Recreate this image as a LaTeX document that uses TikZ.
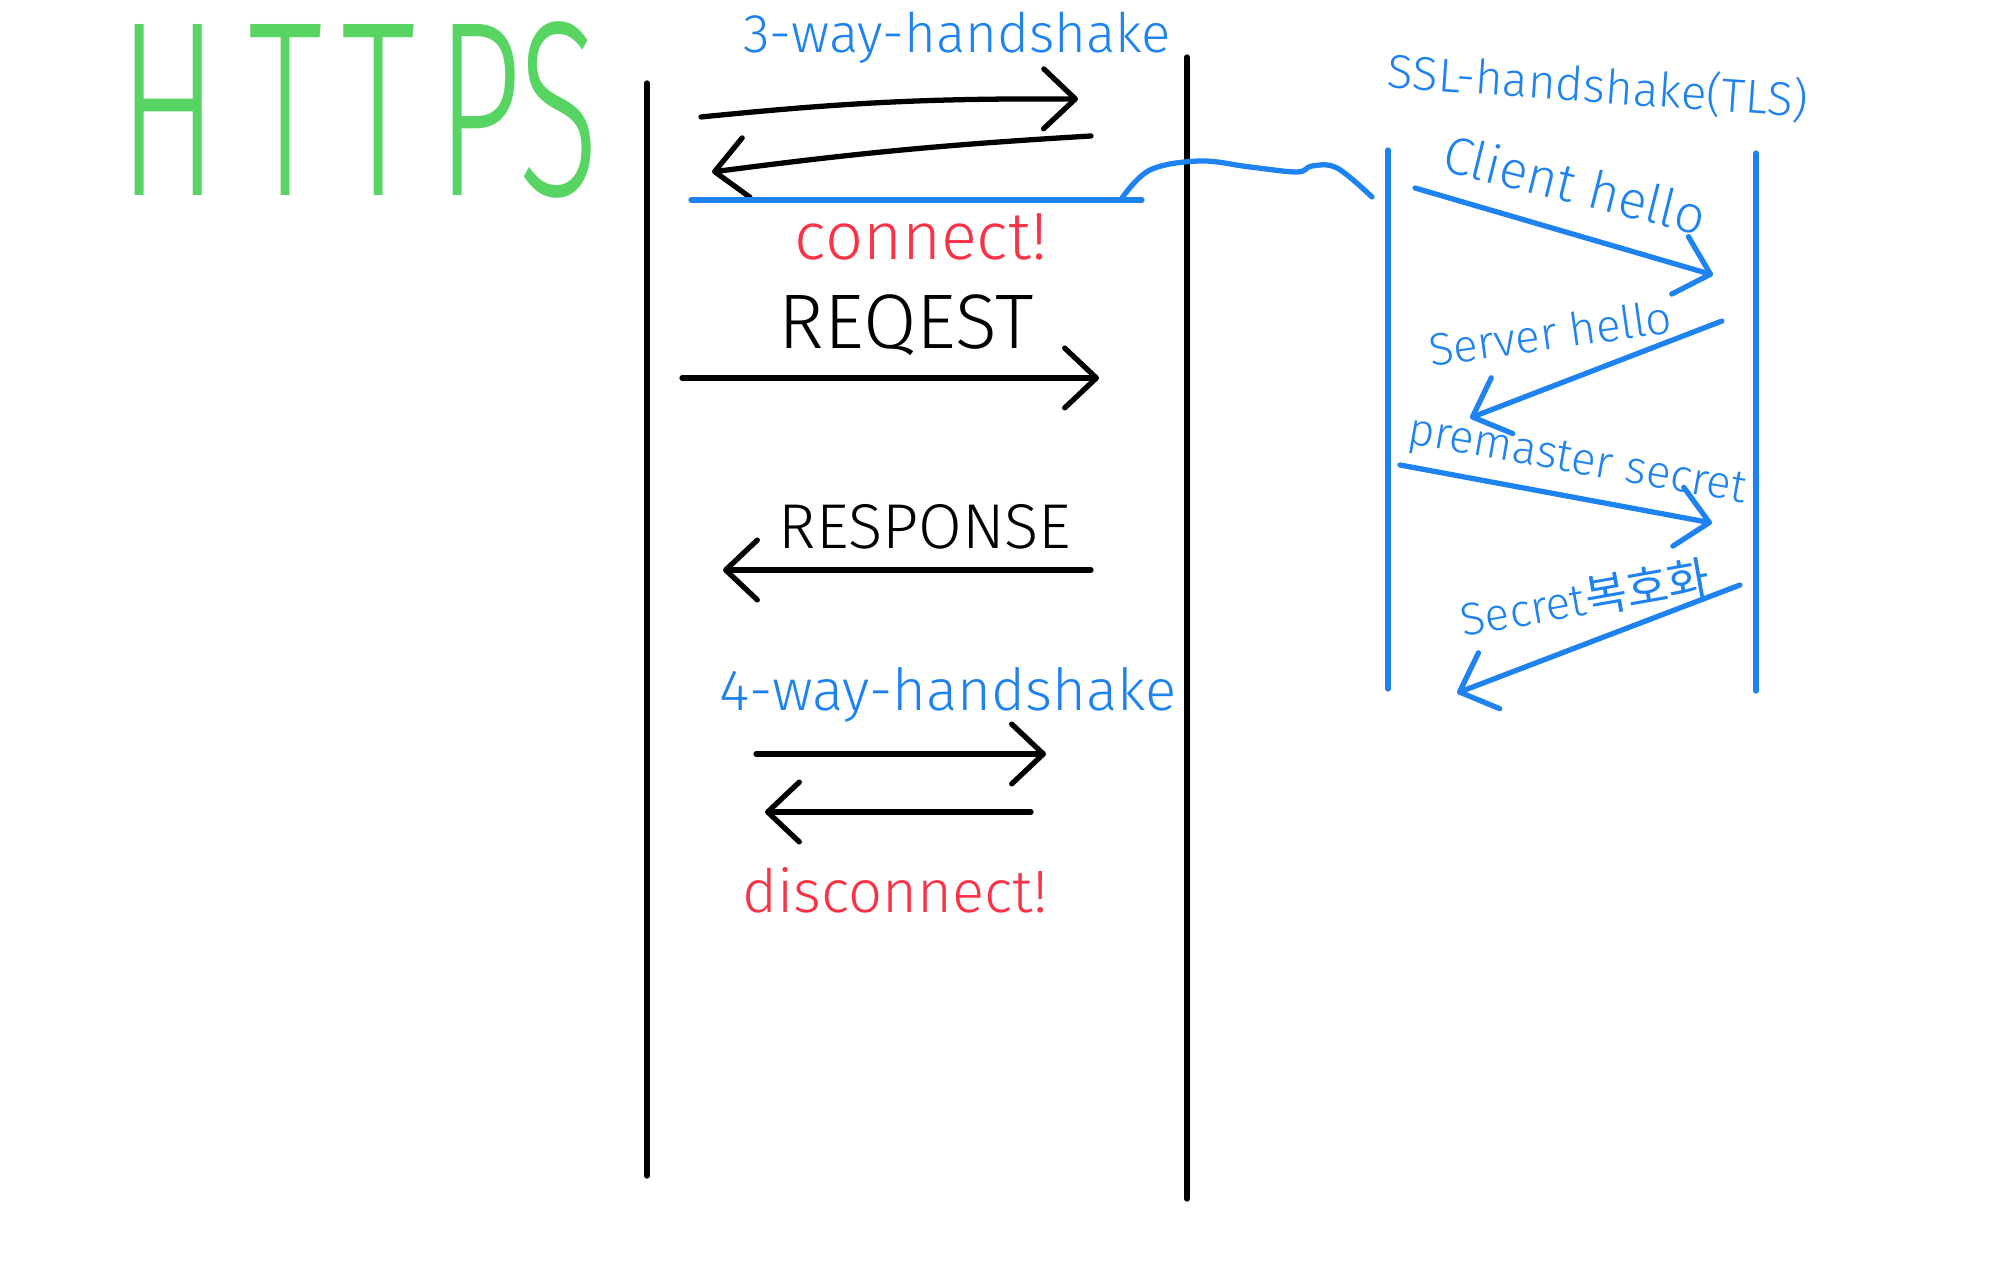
\documentclass[tikz,border=0pt]{standalone}
\usepackage{fontspec}
\usepackage{graphicx}
\setmainfont{Fira Sans Light}
\newfontfamily\krfont{Noto Sans CJK KR}
\usetikzlibrary{arrows.meta}
\definecolor{hGreen}{RGB}{88,212,98}
\definecolor{hBlue}{RGB}{30,130,240}
\definecolor{hRed}{RGB}{250,50,70}

\begin{document}
\begin{tikzpicture}[x=0.01cm,y=-0.01cm,
  lifeline/.style={line width=1.5pt, line cap=round},
  msg/.style={line width=1.5pt, line cap=round, -{Straight Barb[length=9pt,width=17pt,round]}},
  hand/.style={inner sep=0pt, anchor=center}]
\useasboundingbox (0,0) rectangle (2000,1286);
\node[hand, text=hGreen, font={\fontsize{71}{71}\selectfont}] (title) at (359,110) {\scalebox{0.6}[1]{H\hspace{14pt}T\hspace{9pt}T\hspace{10pt}PS}};
\coordinate (cliTop) at (647,83);
\coordinate (cliBot) at (647,1176);
\coordinate (srvTop) at (1187,57);
\coordinate (srvBot) at (1187,1199);
\draw[lifeline] (cliTop) -- (cliBot);
\draw[lifeline] (srvTop) -- (srvBot);
\node[hand, text=hBlue, font={\fontsize{15.5}{15.5}\selectfont}] (threeWay) at (957,38) {3-way-handshake};
\coordinate (syn) at (701,117);
\coordinate (synEnd) at (1078,99);
\coordinate (ack) at (1091,136);
\coordinate (ackEnd) at (712,172);
\draw[msg] (syn) to[bend left=3] (synEnd);
\draw[msg] (ack) to[bend right=2] (ackEnd);
\coordinate (connL) at (691,200);
\coordinate (connR) at (1142,200);
\draw[hBlue, lifeline] (connL) -- (connR);
\draw[hBlue, lifeline] plot[smooth, tension=0.6] coordinates {(1122,198) (1150,170) (1200,161) (1250,167) (1297,172) (1312,166) (1337,168) (1372,197)};
\node[hand, text=hRed, font={\fontsize{19}{19}\selectfont}] (connect) at (921,237) {connect!};
\node[hand, font={\fontsize{22}{22}\selectfont}] (request) at (906,325) {REQEST};
\coordinate (req) at (682,378);
\coordinate (reqEnd) at (1099,378);
\draw[msg] (req) -- (reqEnd);
\node[hand, font={\fontsize{18}{18}\selectfont}] (response) at (925,527) {RESPONSE};
\coordinate (res) at (1091,570);
\coordinate (resEnd) at (723,570);
\draw[msg] (res) -- (resEnd);
\node[hand, text=hBlue, font={\fontsize{16.5}{16.5}\selectfont}] (fourWay) at (948,695) {4-way-handshake};
\coordinate (fin) at (756,754);
\coordinate (finEnd) at (1046,754);
\coordinate (finAck) at (1031,812);
\coordinate (finAckEnd) at (765,812);
\draw[msg] (fin) -- (finEnd);
\draw[msg] (finAck) -- (finAckEnd);
\node[hand, text=hRed, font={\fontsize{17}{17}\selectfont}] (disconnect) at (895,890) {disconnect!};
\node[hand, text=hBlue, font={\fontsize{13.5}{13.5}\selectfont}, rotate=-4] (sslTitle) at (1598,86) {SSL-handshake(TLS)};
\coordinate (tlsCliTop) at (1388,150);
\coordinate (tlsCliBot) at (1388,689);
\coordinate (tlsSrvTop) at (1756,153);
\coordinate (tlsSrvBot) at (1756,691);
\draw[hBlue, lifeline] (tlsCliTop) -- (tlsCliBot);
\draw[hBlue, lifeline] (tlsSrvTop) -- (tlsSrvBot);
\node[hand, text=hBlue, font={\fontsize{15}{15}\selectfont}, rotate=-14] (clientHello) at (1575,184) {Client hello};
\coordinate (ch) at (1415,188);
\coordinate (chEnd) at (1713,275);
\draw[hBlue, msg] (ch) -- (chEnd);
\node[hand, text=hBlue, font={\fontsize{13}{13}\selectfont}, rotate=8] (serverHello) at (1550,333) {Server hello};
\coordinate (sh) at (1722,321);
\coordinate (shEnd) at (1470,418);
\draw[hBlue, msg] (sh) -- (shEnd);
\node[hand, text=hBlue, font={\fontsize{13}{13}\selectfont}, rotate=-10] (premaster) at (1577,463) {premaster secret};
\coordinate (pm) at (1400,465);
\coordinate (pmEnd) at (1712,523);
\draw[hBlue, msg] (pm) -- (pmEnd);
\node[hand, text=hBlue, font={\fontsize{13}{13}\selectfont}, rotate=10] (decrypt) at (1585,598) {Secret{\krfont 복호화}};
\coordinate (dec) at (1740,585);
\coordinate (decEnd) at (1457,693);
\draw[hBlue, msg] (dec) -- (decEnd);
\end{tikzpicture}
\end{document}
